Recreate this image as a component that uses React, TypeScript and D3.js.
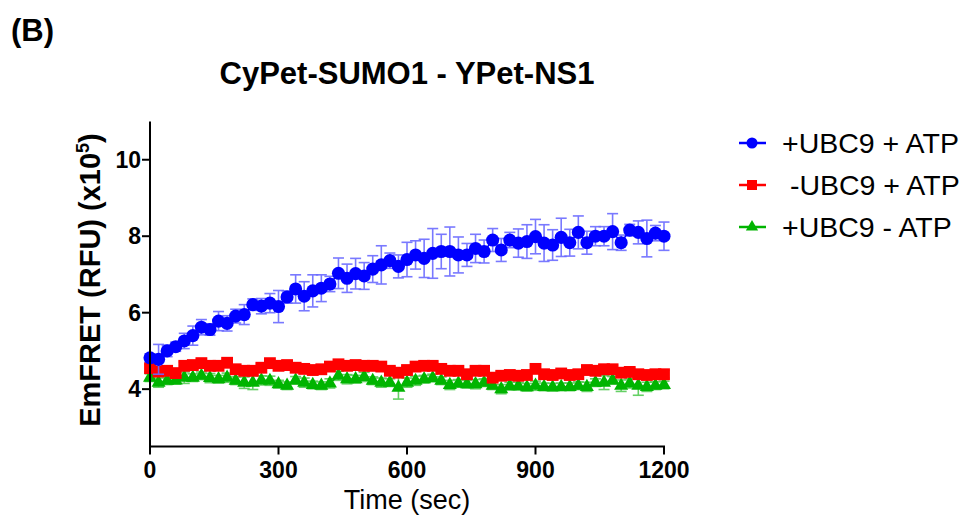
import React from 'react';
import * as d3 from 'd3';

const times = [0, 20, 40, 60, 80, 100, 120, 140, 160, 180, 200, 220, 240, 260, 280, 300, 320, 340, 360, 380, 400, 420, 440, 460, 480, 500, 520, 540, 560, 580, 600, 620, 640, 660, 680, 700, 720, 740, 760, 780, 800, 820, 840, 860, 880, 900, 920, 940, 960, 980, 1000, 1020, 1040, 1060, 1080, 1100, 1120, 1140, 1160, 1180, 1200];

const blueMean = [4.82, 4.78, 5.0, 5.11, 5.26, 5.4, 5.62, 5.56, 5.78, 5.72, 5.91, 5.95, 6.21, 6.17, 6.25, 6.16, 6.41, 6.62, 6.43, 6.57, 6.64, 6.75, 7.03, 6.9, 7.02, 6.96, 7.14, 7.25, 7.36, 7.21, 7.39, 7.51, 7.42, 7.55, 7.6, 7.6, 7.51, 7.51, 7.68, 7.6, 7.9, 7.64, 7.9, 7.82, 7.86, 7.99, 7.82, 7.77, 7.97, 7.83, 8.1, 7.83, 8.0, 8.0, 8.12, 7.83, 8.16, 8.1, 7.94, 8.08, 8.0];
const blueSD = [0.1, 0.39, 0.15, 0.12, 0.2, 0.25, 0.2, 0.15, 0.25, 0.2, 0.18, 0.26, 0.15, 0.2, 0.25, 0.42, 0.16, 0.37, 0.38, 0.42, 0.35, 0.2, 0.4, 0.37, 0.4, 0.35, 0.35, 0.5, 0.2, 0.3, 0.45, 0.37, 0.5, 0.65, 0.45, 0.64, 0.47, 0.3, 0.37, 0.3, 0.3, 0.3, 0.2, 0.37, 0.44, 0.45, 0.48, 0.4, 0.5, 0.35, 0.43, 0.3, 0.25, 0.25, 0.47, 0.2, 0.15, 0.3, 0.48, 0.2, 0.37];

const redMean = [4.55, 4.46, 4.48, 4.42, 4.61, 4.63, 4.68, 4.61, 4.61, 4.69, 4.52, 4.48, 4.48, 4.56, 4.68, 4.61, 4.63, 4.56, 4.53, 4.5, 4.52, 4.59, 4.65, 4.61, 4.63, 4.61, 4.61, 4.59, 4.48, 4.43, 4.5, 4.59, 4.61, 4.61, 4.53, 4.48, 4.48, 4.39, 4.48, 4.48, 4.3, 4.35, 4.37, 4.35, 4.37, 4.53, 4.39, 4.37, 4.41, 4.37, 4.39, 4.5, 4.48, 4.52, 4.52, 4.43, 4.45, 4.39, 4.37, 4.39, 4.39];
const redSD = [0.1, 0.12, 0.1, 0.08, 0.1, 0.1, 0.12, 0.1, 0.1, 0.08, 0.1, 0.12, 0.1, 0.1, 0.08, 0.1, 0.1, 0.1, 0.12, 0.1, 0.1, 0.08, 0.1, 0.1, 0.1, 0.1, 0.12, 0.1, 0.1, 0.1, 0.1, 0.1, 0.08, 0.1, 0.1, 0.1, 0.12, 0.1, 0.1, 0.1, 0.1, 0.1, 0.12, 0.1, 0.1, 0.1, 0.1, 0.1, 0.08, 0.1, 0.1, 0.1, 0.1, 0.12, 0.1, 0.1, 0.1, 0.1, 0.1, 0.1, 0.1];

const greenMean = [4.3, 4.17, 4.22, 4.23, 4.3, 4.3, 4.35, 4.29, 4.26, 4.3, 4.22, 4.17, 4.17, 4.23, 4.22, 4.13, 4.09, 4.23, 4.17, 4.11, 4.09, 4.15, 4.35, 4.26, 4.26, 4.32, 4.22, 4.17, 4.17, 4.04, 4.17, 4.22, 4.26, 4.29, 4.22, 4.11, 4.15, 4.13, 4.13, 4.17, 4.09, 4.0, 4.08, 4.08, 4.05, 4.09, 4.06, 4.05, 4.06, 4.06, 4.09, 4.06, 4.17, 4.17, 4.23, 4.09, 4.15, 4.09, 4.06, 4.09, 4.11];
const greenSD = [0.1, 0.12, 0.1, 0.1, 0.15, 0.1, 0.1, 0.12, 0.1, 0.12, 0.1, 0.15, 0.18, 0.12, 0.12, 0.1, 0.1, 0.1, 0.12, 0.1, 0.1, 0.12, 0.12, 0.12, 0.1, 0.12, 0.1, 0.12, 0.1, 0.3, 0.12, 0.12, 0.1, 0.1, 0.1, 0.12, 0.1, 0.1, 0.12, 0.1, 0.1, 0.12, 0.1, 0.1, 0.1, 0.12, 0.1, 0.1, 0.1, 0.1, 0.1, 0.12, 0.1, 0.18, 0.1, 0.15, 0.12, 0.25, 0.12, 0.1, 0.1];

const seriesLabels = ['+UBC9 + ATP', ' -UBC9 + ATP', '+UBC9 - ATP'];
const xTicks = [0, 300, 600, 900, 1200];
const yTicks = [4, 6, 8, 10];
const panelLabel = '(B)';
const titleText = 'CyPet-SUMO1 - YPet-NS1';
const xLabel = 'Time (sec)';

const FONT = "'Liberation Sans', Arial, sans-serif";

export default function App() {
  const W = 966;
  const H = 519;
  const x = d3.scaleLinear().domain([0, 1200]).range([150, 664]);
  const y = d3.scaleLinear().domain([2.5, 11]).range([446.5, 121.5]);

  const series = [
    { name: seriesLabels[2], mean: greenMean, sd: greenSD, color: '#00b400', err: '#55cc55', sym: d3.symbolTriangle, size: 85, lsize: 65 },
    { name: seriesLabels[1], mean: redMean, sd: redSD, color: '#ff0000', err: '#ff5555', sym: d3.symbolSquare, size: 140, lsize: 100 },
    { name: seriesLabels[0], mean: blueMean, sd: blueSD, color: '#0000ff', err: '#6b6bff', sym: d3.symbolCircle, size: 135, lsize: 95 },
  ];

  const line = d3.line<number>().x((_, i) => x(times[i])).y((d) => y(d));
  const capW = 5.5;

  const legendOrder = [series[2], series[1], series[0]];
  const legendY = [143, 185, 227];

  return (
    <svg width={W} height={H} style={{ position: 'absolute', left: 0, top: 0, background: '#fff' }} fontFamily={FONT}>
      <rect x={0} y={0} width={W} height={H} fill="#fff" />
      <text x={11} y={41} fontSize={31} fontWeight="bold" fill="#000">{panelLabel}</text>
      <text x={407} y={84} fontSize={31} fontWeight="bold" textAnchor="middle" fill="#000">{titleText}</text>

      {/* series */}
      {series.map((s) => (
        <g key={s.name}>
          {s.mean.map((m, i) => {
            const cx = x(times[i]);
            const y1 = y(m - s.sd[i]);
            const y2 = y(m + s.sd[i]);
            return (
              <g key={i} stroke={s.err} strokeWidth={1.6} opacity={0.9}>
                <line x1={cx} x2={cx} y1={y1} y2={y2} />
                <line x1={cx - capW} x2={cx + capW} y1={y1} y2={y1} />
                <line x1={cx - capW} x2={cx + capW} y1={y2} y2={y2} />
              </g>
            );
          })}
          <path d={line(s.mean) || ''} fill="none" stroke={s.color} strokeWidth={1.5} />
          {s.mean.map((m, i) => (
            <path key={i} d={d3.symbol().type(s.sym).size(s.size)() || ''} transform={`translate(${x(times[i])},${y(m)})`} fill={s.color} />
          ))}
        </g>
      ))}

      {/* axes */}
      <g stroke="#000" strokeWidth={2}>
        <line x1={x(0)} x2={x(0)} y1={y(11)} y2={y(2.5) + 1} />
        <line x1={x(0) - 1} x2={x(1200) + 1} y1={y(2.5)} y2={y(2.5)} />
        {yTicks.map((t) => (
          <line key={t} x1={x(0) - 8} x2={x(0)} y1={y(t)} y2={y(t)} />
        ))}
        {xTicks.map((t) => (
          <line key={t} x1={x(t)} x2={x(t)} y1={y(2.5)} y2={y(2.5) + 8} />
        ))}
      </g>
      {yTicks.map((t) => (
        <text key={t} x={x(0) - 9} y={y(t)} dy="0.36em" textAnchor="end" fontSize={23} fontWeight="bold" fill="#000">{t}</text>
      ))}
      {xTicks.map((t) => (
        <text key={t} x={x(t)} y={478} textAnchor="middle" fontSize={23} fontWeight="bold" fill="#000">{t}</text>
      ))}
      <text x={407} y={509} textAnchor="middle" fontSize={27} fill="#000">{xLabel}</text>
      <text transform="translate(100,280) rotate(-90)" textAnchor="middle" fontSize={29} fontWeight="bold" fill="#000">
        EmFRET (RFU) (x10<tspan dy="-11" fontSize={18}>5</tspan><tspan dy="11">)</tspan>
      </text>

      {/* legend */}
      {legendOrder.map((s, i) => (
        <g key={s.name}>
          <line x1={739} x2={766} y1={legendY[i]} y2={legendY[i]} stroke={s.color} strokeWidth={2.5} />
          <path d={d3.symbol().type(s.sym).size(s.lsize)() || ''} transform={`translate(752,${legendY[i]})`} fill={s.color} />
          <text x={782} y={legendY[i]} dy="0.36em" fontSize={28.5} fill="#000" style={{ whiteSpace: 'pre' }}>{s.name}</text>
        </g>
      ))}
    </svg>
  );
}
